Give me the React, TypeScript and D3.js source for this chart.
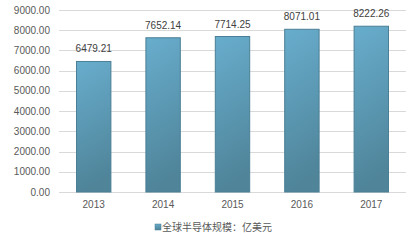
import React from "react";
import * as d3 from "d3";

const categories = ["2013", "2014", "2015", "2016", "2017"];
const values = [6479.21, 7652.14, 7714.25, 8071.01, 8222.26];
const yTicks = [0, 1000, 2000, 3000, 4000, 5000, 6000, 7000, 8000, 9000];
const seriesName = "全球半导体规模：亿美元";

const W = 414;
const H = 242;
const FONT = "'Liberation Sans', Arial, 'Noto Sans CJK SC', sans-serif";

export default function App() {
  const x = d3.scaleBand<string>().domain(categories).range([59, 406]).paddingInner(0.49).paddingOuter(0.245);
  const y = d3.scaleLinear().domain([0, 9000]).range([192, 10]);
  const bw = x.bandwidth();
  return (
    <svg width={W} height={H} style={{ position: "absolute", left: 0, top: 0, background: "#fff" }}>
      <defs>
        <linearGradient id="barGrad" x1="0" y1="0" x2="0.15" y2="1">
          <stop offset="0" stopColor="#68adcd" />
          <stop offset="1" stopColor="#4f8499" />
        </linearGradient>
      </defs>
      {yTicks.map((t) => (
        <g key={t}>
          <line x1={59} x2={406} y1={Math.round(y(t)) + 0.5} y2={Math.round(y(t)) + 0.5} stroke="#d9d9d9" strokeWidth={1} />
          <text x={50} y={y(t)} dy="0.35em" textAnchor="end" fontSize={10} fill="#595959" fontFamily={FONT}>
            {t.toFixed(2)}
          </text>
        </g>
      ))}
      {categories.map((c, i) => {
        const x0 = x(c)!;
        const yv = y(values[i]);
        return (
          <g key={c}>
            <rect x={x0 + 0.5} y={yv + 0.5} width={bw - 1} height={y(0) - yv - 0.5} fill="url(#barGrad)" stroke="#4a7f95" strokeWidth={1} />
            <text x={x0 + bw / 2} y={yv - 8.5} textAnchor="middle" fontSize={10} fill="#404040" fontFamily={FONT}>
              {values[i].toFixed(2)}
            </text>
            <text x={x0 + bw / 2} y={y(0) + 12} dy="0.35em" textAnchor="middle" fontSize={10} fill="#595959" fontFamily={FONT}>
              {c}
            </text>
          </g>
        );
      })}
      <rect x={155} y={224} width={6} height={6} fill="url(#barGrad)" stroke="#4a7f95" strokeWidth={0.5} />
      <text x={162} y={227} dy="0.35em" fontSize={10} fill="#595959" fontFamily={FONT}>
        {seriesName}
      </text>
    </svg>
  );
}
